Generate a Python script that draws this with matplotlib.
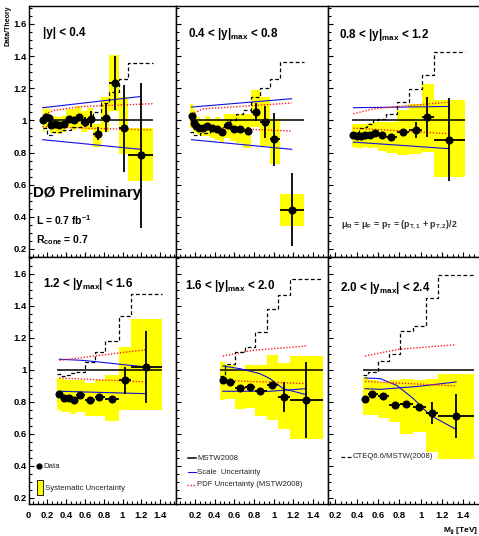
import matplotlib
matplotlib.use('Agg')
import matplotlib.pyplot as plt
from matplotlib.patches import Rectangle
from matplotlib.lines import Line2D
from matplotlib.ticker import MultipleLocator, FuncFormatter
import numpy as np

plt.rcParams['font.family'] = ['Liberation Sans', 'DejaVu Sans']
plt.rcParams['mathtext.fontset'] = 'custom'
plt.rcParams['mathtext.rm'] = 'Liberation Sans'
plt.rcParams['mathtext.bf'] = 'Liberation Sans:bold'
plt.rcParams['mathtext.default'] = 'regular'

# ---------------- data (one entry per panel) ----------------
panel_titles = ["|y| < 0.4", "0.4 < |y|$_{max}$ < 0.8", "0.8 < |y|$_{max}$ < 1.2",
                "1.2 < |y$_{max}$| < 1.6", "1.6 < |y|$_{max}$ < 2.0", "2.0 < |y$_{max}$| < 2.4"]

bin_edges = [
    [0.15, 0.175, 0.2, 0.225, 0.25, 0.3, 0.35, 0.4, 0.45, 0.5, 0.56, 0.62, 0.69, 0.77, 0.86, 0.96, 1.06, 1.32],
    [0.15, 0.175, 0.2, 0.225, 0.25, 0.3, 0.35, 0.4, 0.45, 0.5, 0.56, 0.62, 0.69, 0.77, 0.86, 0.96, 1.06, 1.31],
    [0.355, 0.385, 0.42, 0.458, 0.5, 0.55, 0.6, 0.67, 0.78, 0.894, 1.01, 1.125, 1.415],
    [0.30, 0.35, 0.40, 0.45, 0.51, 0.60, 0.707, 0.81, 0.966, 1.087, 1.417],
    [0.455, 0.505, 0.607, 0.709, 0.81, 0.929, 1.048, 1.166, 1.505],
    [0.456, 0.51, 0.603, 0.706, 0.806, 0.925, 1.05, 1.166, 1.5],
]
mass = [
    [0.158, 0.19, 0.215, 0.24, 0.278, 0.328, 0.378, 0.431, 0.484, 0.537, 0.601, 0.665, 0.743, 0.824, 0.92, 1.016, 1.197],
    [0.165, 0.19, 0.214, 0.24, 0.277, 0.327, 0.377, 0.428, 0.478, 0.533, 0.592, 0.658, 0.736, 0.82, 0.912, 1.007, 1.183],
    [0.369, 0.4, 0.438, 0.478, 0.525, 0.572, 0.634, 0.719, 0.831, 0.953, 1.063, 1.269],
    [0.328, 0.378, 0.431, 0.484, 0.548, 0.654, 0.75, 0.892, 1.027, 1.247],
    [0.482, 0.556, 0.658, 0.76, 0.861, 0.987, 1.105, 1.329],
    [0.478, 0.547, 0.644, 0.759, 0.863, 0.984, 1.103, 1.331],
]
ratio = [
    [1.0, 1.021, 1.015, 0.969, 0.975, 0.969, 0.979, 1.01, 1.004, 1.021, 0.99, 1.01, 0.917, 1.017, 1.232, 0.95, 0.783],
    [1.025, 0.983, 0.963, 0.954, 0.952, 0.963, 0.952, 0.948, 0.928, 0.969, 0.948, 0.948, 0.934, 1.052, 0.99, 0.882, 0.445],
    [0.907, 0.903, 0.903, 0.907, 0.911, 0.921, 0.911, 0.896, 0.928, 0.938, 1.021, 0.88],
    [0.852, 0.827, 0.825, 0.81, 0.842, 0.81, 0.831, 0.821, 0.935, 1.019],
    [0.94, 0.925, 0.8875, 0.894, 0.869, 0.904, 0.833, 0.815],
    [0.817, 0.852, 0.835, 0.779, 0.79, 0.769, 0.733, 0.7125],
]
stat_err = [
    [0.01, 0.01, 0.01, 0.01, 0.01, 0.01, 0.01, 0.01, 0.01, 0.015, 0.03, 0.05, 0.04, 0.09, 0.17, 0.27, 0.45],
    [0.01, 0.01, 0.01, 0.01, 0.01, 0.01, 0.01, 0.01, 0.01, 0.015, 0.015, 0.02, 0.025, 0.055, 0.1, 0.165, 0.225],
    [0.01, 0.01, 0.01, 0.01, 0.01, 0.01, 0.01, 0.01, 0.02, 0.05, 0.125, 0.26],
    [0.01, 0.01, 0.01, 0.01, 0.01, 0.01, 0.01, 0.015, 0.083, 0.227],
    [0.01, 0.01, 0.01, 0.01, 0.01, 0.02, 0.094, 0.237],
    [0.01, 0.01, 0.01, 0.01, 0.01, 0.01, 0.068, 0.135],
]
sys_low = [
    [0.93, 0.95, 0.96, 0.92, 0.92, 0.915, 0.93, 0.95, 0.94, 0.95, 0.93, 0.94, 0.835, 0.93, 1.06, 0.793, 0.62],
    [0.95, 0.93, 0.92, 0.91, 0.9, 0.9, 0.89, 0.88, 0.86, 0.89, 0.87, 0.86, 0.83, 0.96, 0.84, 0.727, 0.344],
    [0.835, 0.83, 0.83, 0.835, 0.83, 0.83, 0.81, 0.795, 0.783, 0.79, 0.803, 0.648],
    [0.75, 0.74, 0.735, 0.725, 0.735, 0.71, 0.71, 0.681, 0.748, 0.748],
    [0.81, 0.82, 0.758, 0.76, 0.71, 0.685, 0.633, 0.571],
    [0.717, 0.717, 0.7, 0.675, 0.602, 0.6125, 0.4875, 0.442],
]
sys_high = [
    [1.07, 1.08, 1.07, 1.02, 1.03, 1.02, 1.03, 1.07, 1.07, 1.09, 1.06, 1.08, 0.98, 1.145, 1.41, 1.145, 0.95],
    [1.1, 1.07, 1.04, 1.02, 1.01, 1.03, 1.01, 1.02, 1.0, 1.04, 1.04, 1.04, 1.04, 1.19, 1.145, 1.01, 0.54],
    [0.98, 0.975, 0.975, 0.98, 0.985, 0.99, 0.99, 0.99, 1.062, 1.103, 1.228, 1.124],
    [0.95, 0.945, 0.935, 0.935, 0.935, 0.92, 0.94, 0.967, 1.144, 1.317],
    [1.05, 1.033, 0.998, 1.03, 1.03, 1.096, 1.046, 1.0875],
    [0.956, 0.935, 0.925, 0.94, 0.946, 0.935, 0.946, 0.977],
]
# CTEQ6.6 / MSTW2008 ratio (dashed step)
cteq_edges = [
    [0.15, 0.2, 0.25, 0.35, 0.45, 0.56, 0.62, 0.69, 0.77, 0.86, 0.96, 1.06, 1.32],
    [0.15, 0.175, 0.25, 0.35, 0.45, 0.5, 0.56, 0.62, 0.69, 0.77, 0.86, 0.96, 1.06, 1.31],
    bin_edges[2], bin_edges[3], bin_edges[4], bin_edges[5],
]
cteq_ratio = [
    [0.95, 0.91, 0.93, 0.94, 0.96, 0.99, 1.01, 1.05, 1.11, 1.176, 1.26, 1.358],
    [0.93, 0.907, 0.92, 0.94, 0.96, 0.98, 1.0, 1.037, 1.062, 1.145, 1.203, 1.259, 1.362],
    [0.92, 0.93, 0.95, 0.96, 0.98, 1.0, 1.01, 1.04, 1.114, 1.197, 1.285, 1.424],
    [0.975, 0.965, 0.97, 0.98, 0.99, 1.05, 1.112, 1.179, 1.335, 1.473],
    [0.96, 1.04, 1.113, 1.144, 1.2375, 1.383, 1.47, 1.567],
    [0.967, 0.9875, 1.054, 1.102, 1.242, 1.275, 1.45, 1.592],
]
# scale uncertainty (blue)
scale_a_x = [[0.15, 1.197], [0.165, 1.183], [0.369, 1.269], [0.328, 0.58, 1.247],
             [0.482, 0.658, 0.861, 0.963, 1.098, 1.329], [0.478, 0.619, 0.775, 0.931, 1.088, 1.331]]
scale_a_y = [[1.079, 1.149], [1.083, 1.135], [1.079, 1.087], [1.067, 1.06, 1.019],
             [1.025, 1.008, 0.977, 0.946, 0.883, 0.846], [0.95, 0.946, 0.904, 0.821, 0.717, 0.629]]
scale_b_x = [[0.15, 1.197], [0.165, 1.183], [0.369, 1.269], [0.328, 1.247],
             [0.482, 0.963, 1.329], [0.478, 0.619, 0.984, 1.331]]
scale_b_y = [[0.88, 0.82], [0.88, 0.82], [0.865, 0.824], [0.867, 0.852],
             [0.867, 0.867, 0.883], [0.883, 0.879, 0.898, 0.925]]
# PDF uncertainty (red dotted)
pdf_up_x = [[0.15, 0.264, 0.583, 1.32], [0.165, 0.285, 1.183], [0.369, 0.556, 1.269], [0.328, 1.247],
            [0.482, 0.793, 1.329], [0.478, 0.8, 1.331]]
pdf_up_y = [[1.03, 1.062, 1.087, 1.104], [1.04, 1.072, 1.108], [1.041, 1.072, 1.114], [1.06, 1.127],
            [1.0875, 1.123, 1.15], [1.0875, 1.13, 1.158]]
pdf_dn_x = [[0.15, 1.32], [0.165, 1.183], [0.369, 1.269], [0.328, 1.247], [0.482, 1.329], [0.478, 1.331]]
pdf_dn_y = [[0.96, 0.94], [0.96, 0.934], [0.952, 0.917], [0.95, 0.925], [0.935, 0.915], [0.929, 0.9]]

# ---------------- layout ----------------
W, H = 479, 536
fig = plt.figure(figsize=(W / 100, H / 100), dpi=100)

col_px = [(28.5, 176), (176, 328), (328, 479)]
row_px = [(6, 257), (257, 504)]
xlims = [(0.0, 1.569), (0.007, 1.553), (0.131, 1.546)]
ylims = [(0.150, 1.712), (0.1625, 1.706)]

def fx(x):
    return x / W

def fy(y):
    return 1 - y / H

fmt = FuncFormatter(lambda v, p: ('%g' % round(v, 2)))
axes = []
for r in range(2):
    for c in range(3):
        k = r * 3 + c
        x0, x1 = col_px[c]
        y0, y1 = row_px[r]
        ax = fig.add_axes([fx(x0), fy(y1), (x1 - x0) / W, (y1 - y0) / H])
        ax.set_xlim(*xlims[c])
        ax.set_ylim(*ylims[r])
        for s in ax.spines.values():
            s.set_linewidth(1.0)
        if c == 2:
            ax.spines['right'].set_visible(False)
        ax.xaxis.set_major_locator(MultipleLocator(0.2))
        ax.xaxis.set_minor_locator(MultipleLocator(0.05))
        ax.yaxis.set_major_locator(MultipleLocator(0.2))
        ax.yaxis.set_minor_locator(MultipleLocator(0.05))
        ax.tick_params(which='both', direction='in', top=False, right=False, width=0.8)
        ax.tick_params(which='major', length=3.6)
        ax.tick_params(which='minor', length=2.0)
        ax.xaxis.set_major_formatter(fmt)
        ax.yaxis.set_major_formatter(fmt)
        ax.tick_params(axis='x', labelsize=6.8, pad=5)
        ax.tick_params(axis='y', labelsize=6.8, pad=1.2)
        for lab in ax.get_xticklabels() + ax.get_yticklabels():
            lab.set_fontweight('bold')
        if r == 0:
            ax.tick_params(labelbottom=False)
        if c != 0:
            ax.tick_params(labelleft=False)

        e = np.array(bin_edges[k])
        xm = np.array(mass[k])
        yv = np.array(ratio[k])
        # systematic boxes
        for i in range(len(yv)):
            ax.add_patch(Rectangle((e[i], sys_low[k][i]), e[i + 1] - e[i],
                                   sys_high[k][i] - sys_low[k][i],
                                   facecolor='#ffff00', edgecolor='none', zorder=1))
        # MSTW reference
        ax.hlines(1.0, e[0], e[-1], color='black', lw=1.1, zorder=3)
        # scale uncertainty
        ax.plot(scale_a_x[k], scale_a_y[k], color='#1010e0', lw=0.8, zorder=3)
        ax.plot(scale_b_x[k], scale_b_y[k], color='#1010e0', lw=0.8, zorder=3)
        # pdf uncertainty
        ax.plot(pdf_up_x[k], pdf_up_y[k], color='#ff2020', lw=1.0, ls=(0, (1, 1.2)), zorder=3)
        ax.plot(pdf_dn_x[k], pdf_dn_y[k], color='#ff2020', lw=1.0, ls=(0, (1, 1.2)), zorder=3)
        # CTEQ step
        ax.stairs(cteq_ratio[k], cteq_edges[k], baseline=None, color='black',
                  lw=0.9, ls=(0, (3, 2)), zorder=3)
        # data
        ax.errorbar(xm, yv, yerr=stat_err[k], xerr=[xm - e[:-1], e[1:] - xm],
                    fmt='o', color='black', ms=4.8, elinewidth=1.3, capsize=0, zorder=5)
        axes.append(ax)

# panel labels
title_pos = [(43, 33), (188, 34), (339, 35), (43, 284), (185, 286), (340, 288)]
for k in range(6):
    fig.text(fx(title_pos[k][0]), fy(title_pos[k][1]), panel_titles[k], fontsize=8.4,
             fontweight='bold', va='center', ha='left')

fig.text(fx(33), fy(193), "DØ Preliminary", fontsize=10.8, fontweight='bold', va='center')
fig.text(fx(36), fy(220), "L = 0.7 fb$^{-1}$", fontsize=7.5, fontweight='bold', va='center')
fig.text(fx(36), fy(240), "R$_{cone}$ = 0.7", fontsize=7.5, fontweight='bold', va='center')
fig.text(fx(341), fy(225), "μ$_R$ = μ$_F$ = p$_T$ = (p$_{T,1}$ + p$_{T,2}$)/2", fontsize=6.4,
         fontweight='bold', va='center', color='#333333')

# legends
leg_fs = 5.6
fig.add_artist(Line2D([fx(39)], [fy(466)], marker='o', ms=3.5, color='black', ls='none'))
fig.text(fx(43), fy(466), "Data", fontsize=leg_fs, va='center', color='#222222')
fig.add_artist(Rectangle((fx(37), fy(495)), 6 / W, 15 / H, facecolor='#ffff00',
                         edgecolor='black', lw=0.6, transform=fig.transFigure))
fig.text(fx(45), fy(488), "Systematic Uncertainty", fontsize=leg_fs, va='center', color='#222222')

fig.add_artist(Line2D([fx(188), fx(196)], [fy(458), fy(458)], color='black', lw=1.1))
fig.text(fx(197), fy(458), "MSTW2008", fontsize=leg_fs, va='center', color='#222222')
fig.add_artist(Line2D([fx(188), fx(196)], [fy(472), fy(472)], color='#1010e0', lw=0.8))
fig.text(fx(197), fy(472), "Scale  Uncertainty", fontsize=leg_fs, va='center', color='#222222')
fig.add_artist(Line2D([fx(187), fx(196)], [fy(485), fy(485)], color='#ff2020', lw=1.0, ls=(0, (1, 1.2))))
fig.text(fx(197), fy(485), "PDF Uncertainty (MSTW2008)", fontsize=leg_fs, va='center', color='#222222')
fig.add_artist(Line2D([fx(341), fx(351)], [fy(457), fy(457)], color='black', lw=0.9, ls=(0, (3, 2))))
fig.text(fx(353), fy(457), "CTEQ6.6/MSTW(2008)", fontsize=leg_fs, va='center', color='#222222')

# axis titles
fig.text(fx(8.5), fy(5), "Data/Theory", rotation=90, fontsize=5.0, fontweight='bold',
         ha='center', va='top')
fig.text(fx(478), fy(531), "M$_{jj}$ [TeV]", fontsize=6, fontweight='bold', ha='right', va='center')

fig.savefig('out.png', dpi=100)
